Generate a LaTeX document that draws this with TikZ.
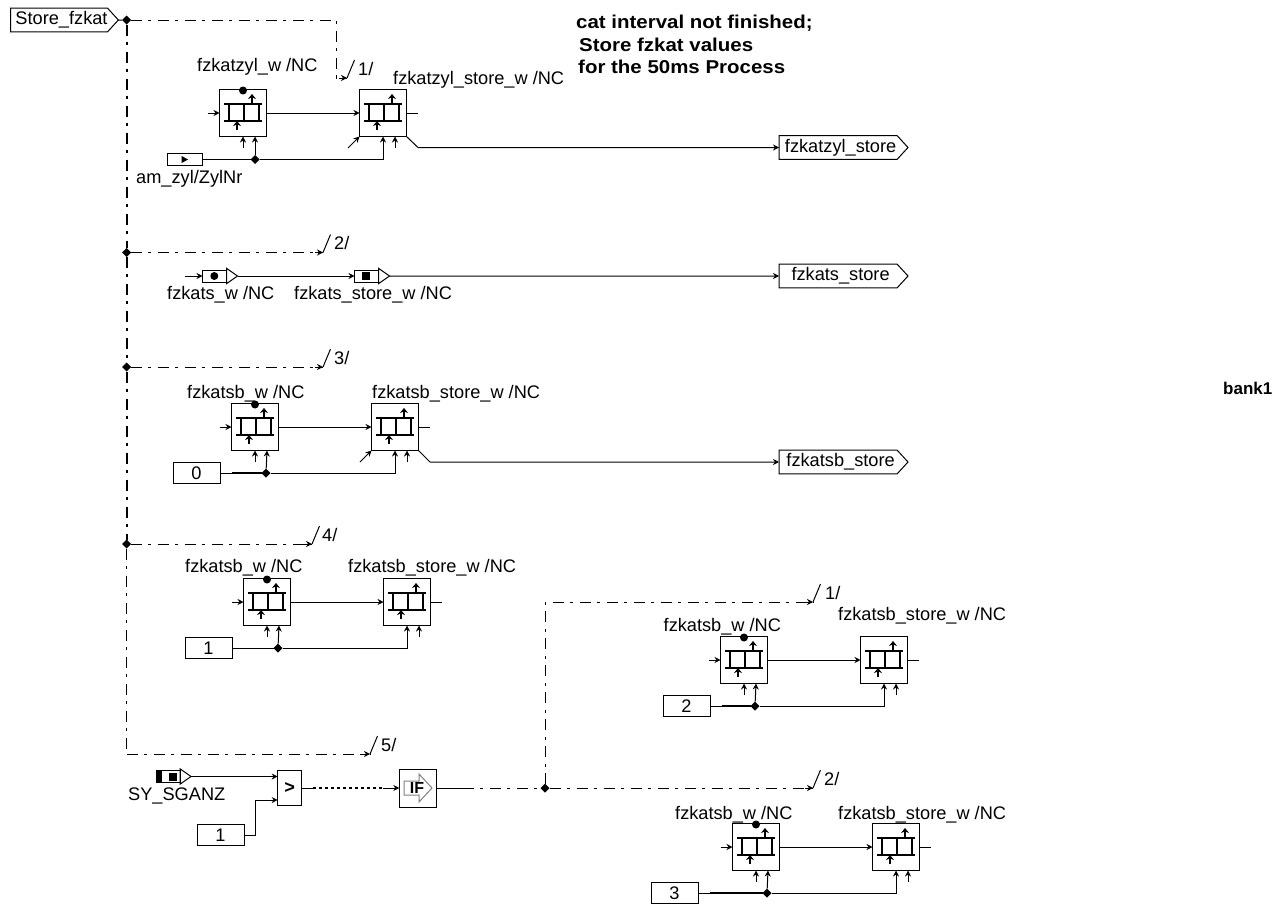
\documentclass[tikz,border=0pt]{standalone}
\usepackage{fontspec}
\setmainfont{Liberation Sans}
\newfontface\widebold[FakeStretch=1.1]{Liberation Sans Bold}
\usetikzlibrary{arrows.meta,calc,shapes.geometric,shapes.symbols}

\tikzset{
  lbl/.style={anchor=base west, inner sep=0pt, font=\fontsize{18.2}{20}\selectfont},
  boldlbl/.style={lbl, font=\fontsize{18.6}{20}\widebold},
  regbox/.style={draw, line width=1pt, minimum width=47pt, minimum height=47pt, inner sep=0pt, outer sep=0pt},
  cbox/.style={draw, line width=1pt, anchor=west, minimum width=47pt, minimum height=21pt, inner sep=0pt, outer sep=0pt, font=\fontsize{18.2}{20}\selectfont},
  junct/.style={diamond, fill=black, inner sep=0pt, minimum size=9pt, outer sep=0pt},
  sigtag/.style={signal, signal to=east, signal pointer angle=95, draw, line width=1pt, anchor=west, minimum height=23.6pt, inner sep=0pt, outer sep=0pt, font=\fontsize{18.2}{20}\selectfont, execute at begin node=\hspace*{5pt}},
  ctrl/.style={line width=1pt, dash pattern=on 11pt off 6pt on 3pt off 7pt},
  ctrlthick/.style={line width=2pt, dash pattern=on 11pt off 6pt on 3pt off 7pt},
  wire/.style={line width=1pt},
  glyph/.style={line width=2.4pt},
  tip/.style={-{Stealth[length=6pt,width=6pt]}},
  smalltip/.style={line width=1pt, -{Stealth[length=6pt,width=6pt]}}
}

% register block, with its inner symbol and short stubs
\newcommand{\regblock}[3]{
  \node[regbox] (#1) at (#2,#3) {};
  \draw[glyph] (#2-19,#3-9) -- (#2+19,#3-9); \draw[glyph] (#2-19,#3+8) -- (#2+19,#3+8);
  \draw[glyph] (#2-14,#3-9) -- (#2-14,#3+8); \draw[glyph] (#2+1,#3-9) -- (#2+1,#3+8); \draw[glyph] (#2+16,#3-9) -- (#2+16,#3+8);
  \draw[line width=2pt,-{Stealth[length=5pt,width=8pt]}] (#2+9,#3-9) -- (#2+9,#3-19); \draw[line width=2pt,-{Stealth[length=5pt,width=8pt]}] (#2-6,#3+17) -- (#2-6,#3+8);
  \coordinate (#1a) at (#2,#3+23.5); \coordinate (#1b) at (#2+12,#3+23.5);
  \coordinate (#1c) at (#2,#3+35); \coordinate (#1d) at (#2+12,#3+35);
}
% marker tag in a line: box plus triangle
\newcommand{\srctag}[4]{
  \node[draw, line width=1pt, minimum width=24pt, minimum height=12pt, inner sep=0pt, outer sep=0pt, anchor=west] (#1) at (#2,#3) {};
  \node[draw, line width=1pt, isosceles triangle, isosceles triangle apex angle=70, minimum height=11pt, inner sep=0pt, outer sep=0pt, anchor=west, minimum width=12pt] (#1t) at (#2+24,#3) {};
  #4
}

\begin{document}
\begin{tikzpicture}[x=1pt, y=-1pt, >=Stealth]
\useasboundingbox (0,0) rectangle (1274,905);

  % Define tags, constants and blocks
\node[sigtag, minimum width=105pt] (store) at (10.5,20) {Store\_fzkat}; \node[sigtag, minimum width=129pt] (zylstore) at (779,147.5) {fzkatzyl\_store}; \node[sigtag, minimum width=129pt] (tsstore) at (779,276) {fzkats\_store}; \node[sigtag, minimum width=129pt] (sbstore) at (779,462) {fzkatsb\_store};
\node[cbox] (c0) at (173,473) {0}; \node[cbox] (c1) at (185,648) {1}; \node[cbox] (c2) at (663,706) {2}; \node[cbox] (c3) at (651,893) {3}; \node[cbox] (c4) at (197,835) {1};
\regblock{za}{243}{113} \regblock{zb}{383}{113} \regblock{sa}{255}{427} \regblock{sb}{395}{427} \regblock{ta}{267}{602} \regblock{tb}{407}{602} \regblock{ua}{744}{660} \regblock{ub}{884}{660} \regblock{va}{756}{847} \regblock{vb}{896}{847}
\foreach \nm in {za,sa,ta,ua,va} {\fill (\nm.north) ++(0,1) circle (4pt);}
\node[draw, line width=1pt, minimum width=35pt, minimum height=12pt, inner sep=0pt, outer sep=0pt, anchor=west] (amzyl) at (167.5,159.5) {}; \fill (181.7,156) -- (188,159.5) -- (181.7,163) -- cycle;
\srctag{tsa}{202.5}{276}{\fill (214.3,276) circle (4pt);} \srctag{tsb}{354.5}{276}{\fill (362,272) rectangle (370,280);} \srctag{sy}{156}{776.5}{\fill (156,770.5) rectangle (162,782.5); \fill (169,772.5) rectangle (177,780.5);}
\node[draw, line width=1pt, minimum width=24pt, minimum height=35pt, inner sep=0pt, outer sep=0pt, font=\fontsize{18.2}{20}\selectfont\bfseries] (cmp) at (289.7,788) {>};
\node[draw, line width=1pt, minimum width=37pt, minimum height=38pt, inner sep=0pt, outer sep=0pt] (ifb) at (417.8,788) {}; \draw[line width=1pt, gray] (404,781) -- (419,781) -- (419,774) -- (432,788) -- (419,802) -- (419,795) -- (404,795) -- cycle; \node[font=\fontsize{16}{18}\selectfont\bfseries, inner sep=0pt] (iftext) at (417,788) {IF};

  % Define junctions and free ends
\node[junct] (j0) at (126.7,20) {}; \node[junct] (j2) at (126.7,252.5) {}; \node[junct] (j3) at (126.7,367) {}; \node[junct] (j4) at (126.7,544) {}; \node[junct] (j5) at (545,788) {};
\node[junct] (jz) at (255,159.5) {}; \node[junct] (js) at (266,473) {}; \node[junct] (jt) at (278,648) {}; \node[junct] (ju) at (755,706) {}; \node[junct] (jv) at (767,893) {};
\coordinate (e5) at (126.7,754);
\foreach \nm/\x/\y/\t/\lx in {b1/347/78/1/358, b2/323/252.5/2/334, b3/323/367/3/334, b4/312/544/4/322, b5/370/754/5/381, b6/813/602/1/825, b7/813/788/2/824} {
  \coordinate (\nm) at (\x,\y); \coordinate (\nm t) at (\x+7.5,\y-18); \draw[wire] (\nm) -- (\nm t); \node[lbl] (\nm l) at (\lx,\y-3) {\t/};
}

  % Draw labels
\node[lbl] (lza) at (197,71) {fzkatzyl\_w /NC}; \node[lbl] (lzb) at (393,84) {fzkatzyl\_store\_w /NC}; \node[lbl] (lam) at (136,183) {am\_zyl/ZylNr}; \node[lbl] (ltsa) at (167,299) {fzkats\_w /NC}; \node[lbl] (ltsb) at (294,299) {fzkats\_store\_w /NC}; \node[lbl] (lsa) at (187,398) {fzkatsb\_w /NC}; \node[lbl] (lsb) at (372,398) {fzkatsb\_store\_w /NC}; \node[lbl] (lta) at (185,572) {fzkatsb\_w /NC}; \node[lbl] (ltb) at (348,572) {fzkatsb\_store\_w /NC}; \node[lbl] (lua) at (663.5,631) {fzkatsb\_w /NC}; \node[lbl] (lub) at (838,620) {fzkatsb\_store\_w /NC}; \node[lbl] (lva) at (675,819) {fzkatsb\_w /NC}; \node[lbl] (lvb) at (838,819) {fzkatsb\_store\_w /NC}; \node[lbl] (lsy) at (128,800) {SY\_SGANZ};
\node[boldlbl] (t1) at (576,28) {cat interval not finished;}; \node[boldlbl] (t2) at (579,51) {Store fzkat values}; \node[boldlbl] (t3) at (578,73) {for the 50ms Process}; \node[lbl, font=\fontsize{17}{20}\selectfont\bfseries] (bank) at (1223,394) {bank1};

  % Draw control flow
\draw[wire] (store) -- (j0); \draw[ctrl] (j0) -- (336,20) -- (336,78) -- (b1); \draw[ctrlthick] (j0) -- (j2); \draw[ctrlthick] (j2) -- (j3); \draw[ctrlthick] (j3) -- (j4); \draw[ctrl] (j4) -- (e5);
\draw[ctrl] (j2) -- (b2); \draw[ctrl] (j3) -- (b3); \draw[ctrl] (j4) -- (b4); \draw[ctrl] (e5) -- (b5); \draw[wire] (ifb) -- (463,788); \draw[ctrl] (463,788) -- (j5); \draw[ctrl] (j5) -- (b7); \draw[ctrl] (j5) -- (545,602) -- (b6);
\foreach \nm in {b1,b2,b3,b4,b5,b6,b7} {\draw[tip, wire] ($(\nm)+(-8,0)$) -- (\nm);}

  % Draw arrows between blocks
\foreach \a/\b in {za/zb, sa/sb, ta/tb, ua/ub, va/vb} {
  \draw[smalltip] (\a) -- (\b); \draw[smalltip] ($(\a.west)+(-12,0)$) -- (\a.west); \draw[wire] (\b.east) -- ++(11,0);
  \draw[smalltip] (\a c) -- (\a.south); \draw[smalltip] (\b d) -- (\b b);
}
\draw[wire] (amzyl) -- (jz); \draw[smalltip] (jz) -- (zab); \draw[smalltip] (jz) -- (zb.center |- jz) -- (zb.south);
\draw[wire] (c0) -- (js); \draw[line width=2pt] (232,473) -- (js); \draw[smalltip] (js) -- (sab); \draw[smalltip] (js) -- (sb.center |- js) -- (sb.south);
\draw[wire] (c1) -- (jt); \draw[smalltip] (jt) -- (tab); \draw[smalltip] (jt) -- (tb.center |- jt) -- (tb.south);
\draw[wire] (c2) -- (ju); \draw[line width=2pt] (721.7,706) -- (ju); \draw[smalltip] (ju) -- (uab); \draw[smalltip] (ju) -- (ub.center |- ju) -- (ub.south);
\draw[wire] (c3) -- (jv); \draw[line width=2pt] (710,893) -- (jv); \draw[smalltip] (jv) -- (vab); \draw[smalltip] (jv) -- (vb.center |- jv) -- (vb.south);
\draw[smalltip] (348,148) -- (zb.south west); \draw[smalltip] (360,462) -- (sb.south west);
\draw[smalltip] (zb.south east) -- (418,147.5) -- (zylstore); \draw[smalltip] (sb.south east) -- (430,462) -- (sbstore);

  % Draw line of tags and comparison
\draw[smalltip] (185,276) -- (tsa); \draw[smalltip] (tsat.east) -- (tsb); \draw[smalltip] (tsbt.east) -- (tsstore);
\draw[smalltip] (syt.east) -- (277.7,776.5); \draw[wire] (c4) -- (255,835) -- (255,800); \draw[smalltip] (255,800) -- (277.7,800);
\draw[wire] (cmp) -- (313,788); \draw[line width=1.1pt, dash pattern=on 3pt off 3pt] (313,788) -- (383,788); \draw[smalltip] (383,788) -- (ifb);

\end{tikzpicture}
\end{document}
